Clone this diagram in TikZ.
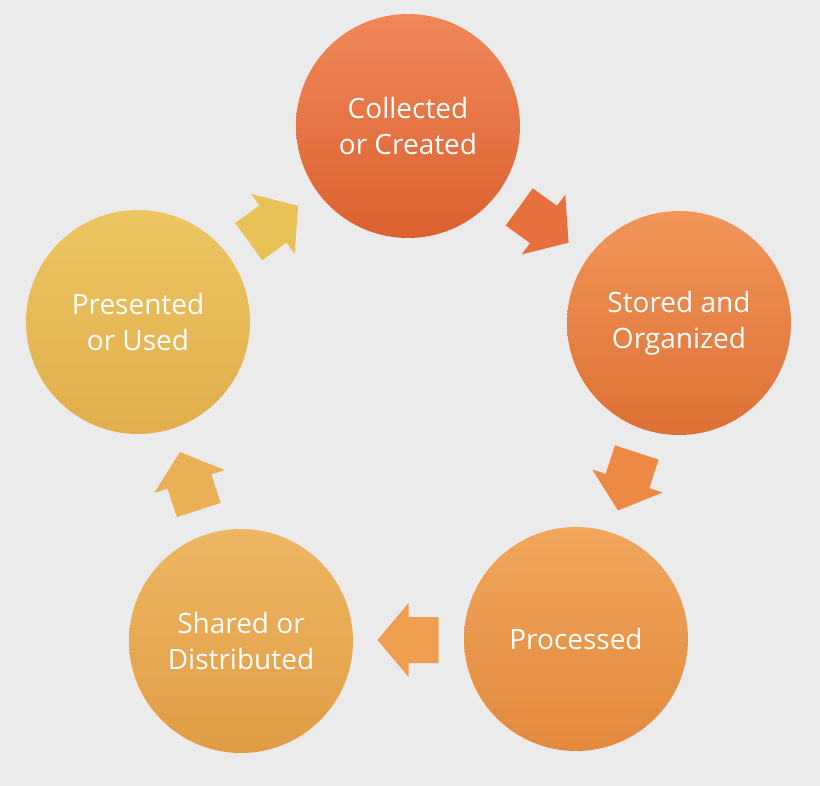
\documentclass[tikz,border=0pt]{standalone}
\usepackage{fontspec}
\setmainfont{Open Sans}
\usetikzlibrary{calc}
\definecolor{bg}{HTML}{ECEBEC}
\definecolor{cAt}{HTML}{F0875A}\definecolor{cAb}{HTML}{DB612E}
\definecolor{cBt}{HTML}{F2965A}\definecolor{cBb}{HTML}{DD7034}
\definecolor{cCt}{HTML}{F0A65C}\definecolor{cCb}{HTML}{E3893C}
\definecolor{cDt}{HTML}{EEB662}\definecolor{cDb}{HTML}{E19C45}
\definecolor{cEt}{HTML}{ECC661}\definecolor{cEb}{HTML}{E1AE4D}
\definecolor{aA}{HTML}{E8703F}
\definecolor{aB}{HTML}{EE8845}
\definecolor{aC}{HTML}{EE9E4E}
\definecolor{aD}{HTML}{EAB055}
\definecolor{aE}{HTML}{E8C157}
\tikzset{
  stage/.style={circle, minimum size=224pt, inner sep=0pt, text=white,
    align=center, font=\fontsize{28}{36}\selectfont},
  pics/blockarr/.style={code={
    \fill[#1] (-30,-23) -- (0,-23) -- (0,-37) -- (31,0) -- (0,37) -- (0,23) -- (-30,23) -- cycle;
  }}
}
\begin{document}
\begin{tikzpicture}[x=1pt,y=-1pt]
\fill[bg] (0,0) rectangle (820,786);
\useasboundingbox (0,0) rectangle (820,786);
\node[stage, top color=cAt, bottom color=cAb] (a) at (408,126) {Collected\\or Created};
\node[stage, top color=cBt, bottom color=cBb] (b) at (679,323) {Stored and\\Organized};
\node[stage, top color=cCt, bottom color=cCb] (c) at (576,639) {Processed};
\node[stage, top color=cDt, bottom color=cDb] (d) at (241,641) {Shared or\\Distributed};
\node[stage, top color=cEt, bottom color=cEb] (e) at (138,322) {Presented\\or Used};
\coordinate (ab) at ($(a)!0.5!(b)$);
\coordinate (bc) at ($(b)!0.5!(c)$);
\coordinate (cd) at ($(c)!0.5!(d)$);
\coordinate (de) at ($(d)!0.5!(e)$);
\coordinate (ea) at ($(e)!0.5!(a)$);
\pic[rotate=-36] at (ab) {blockarr=aA};
\pic[rotate=-108] at (bc) {blockarr=aB};
\pic[rotate=180] at (cd) {blockarr=aC};
\pic[rotate=108] at (de) {blockarr=aD};
\pic[rotate=36] at (ea) {blockarr=aE};
\end{tikzpicture}
\end{document}
